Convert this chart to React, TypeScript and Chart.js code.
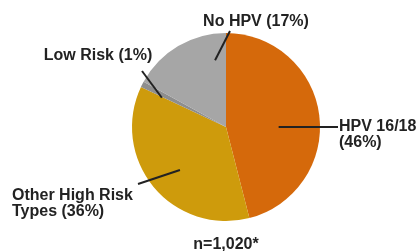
import React, { useEffect, useRef } from "react";
import { Chart, registerables } from "chart.js";

Chart.register(...registerables);

const categories = ["HPV 16/18", "Other High Risk Types", "Low Risk", "No HPV"];
const shares = [46, 36, 1, 17];
const sliceColors = ["#D5690B", "#CE9B0C", "#8E8E8E", "#A6A6A6"];
const footnote = "n=1,020*";

// label layout: angle (deg from top, clockwise) & radius fraction for the inner end of leader line
const labelLayout = [
  { ang: 90, frac: 0.56, end: [338, 127], lines: ["HPV 16/18", "(46%)"], tx: 339, ty: 131, align: "left" },
  { ang: 227, frac: 0.67, end: [138, 184], lines: ["Other High Risk", "Types (36%)"], tx: 12, ty: 200, align: "left" },
  { ang: 294.5, frac: 0.75, end: [142, 71], lines: ["Low Risk (1%)"], tx: 98, ty: 60, align: "center" },
  { ang: 350.7, frac: 0.72, end: [230, 31], lines: ["No HPV (17%)"], tx: 256, ty: 26, align: "center" },
];

const labelPlugin = {
  id: "leaderLabels",
  afterDraw(chart: any) {
    const ctx = chart.ctx;
    const meta = chart.getDatasetMeta(0);
    ctx.save();
    ctx.font = "bold 16px 'Liberation Sans', Arial, sans-serif";
    ctx.fillStyle = "#222";
    ctx.strokeStyle = "#222";
    ctx.lineWidth = 2;
    meta.data.forEach((arc: any, i: number) => {
      const L = labelLayout[i];
      if (!L) return;
      const a = (L.ang * Math.PI) / 180;
      const r = arc.outerRadius * L.frac;
      const px = arc.x + Math.sin(a) * r;
      const py = arc.y - Math.cos(a) * r;
      ctx.beginPath();
      ctx.moveTo(px, py);
      ctx.lineTo(L.end[0], L.end[1]);
      ctx.stroke();
      ctx.textAlign = L.align;
      ctx.textBaseline = "alphabetic";
      L.lines.forEach((t: string, k: number) => {
        ctx.fillText(t, L.tx, L.ty + k * 16);
      });
    });
    ctx.textAlign = "center";
    ctx.fillText(footnote, 226, 249);
    ctx.restore();
  },
};

export default function App() {
  const ref = useRef<HTMLCanvasElement>(null);
  useEffect(() => {
    document.body.style.margin = "0";
    const chart = new Chart(ref.current!, {
      type: "pie",
      data: {
        labels: categories,
        datasets: [
          {
            data: shares,
            backgroundColor: sliceColors,
            borderWidth: 0,
          },
        ],
      },
      options: {
        animation: false,
        responsive: false,
        maintainAspectRatio: false,
        layout: { padding: { left: 132, right: 99, top: 33, bottom: 30 } },
        plugins: { legend: { display: false }, tooltip: { enabled: false } },
      },
      plugins: [labelPlugin],
    });
    return () => chart.destroy();
  }, []);
  return (
    <div style={{ width: 419, height: 251, background: "#fff" }}>
      <canvas ref={ref} width={419} height={251} style={{ display: "block" }} />
    </div>
  );
}
